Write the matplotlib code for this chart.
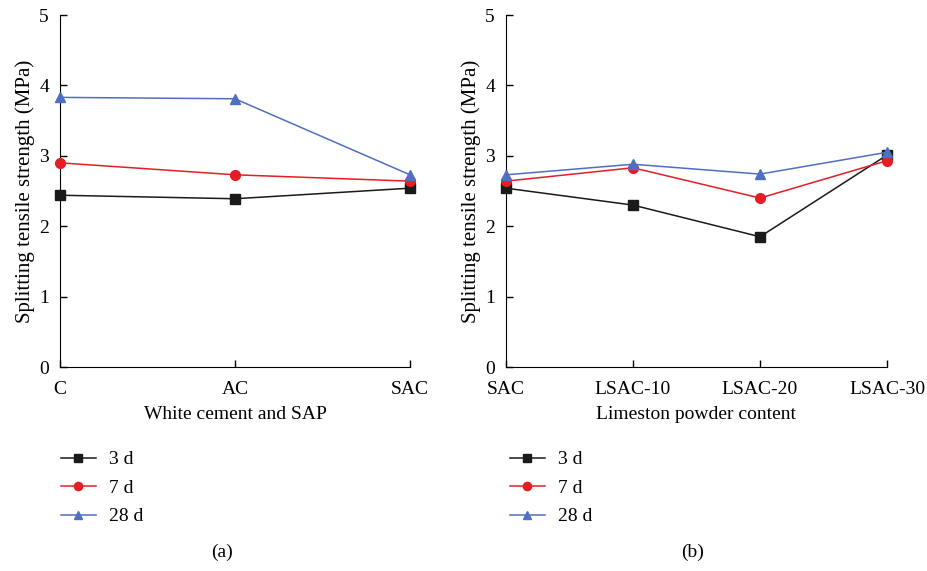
import matplotlib
matplotlib.use("Agg")
import matplotlib.pyplot as plt

plt.rcParams["font.family"] = ["Liberation Serif", "DejaVu Serif"]

# panel (a)
cats_a = ["C", "AC", "SAC"]
d3_a = [2.44, 2.39, 2.54]
d7_a = [2.90, 2.73, 2.64]
d28_a = [3.83, 3.81, 2.73]

# panel (b)
cats_b = ["SAC", "LSAC-10", "LSAC-20", "LSAC-30"]
d3_b = [2.54, 2.30, 1.85, 3.01]
d7_b = [2.64, 2.83, 2.40, 2.93]
d28_b = [2.73, 2.88, 2.74, 3.05]

labels = ["3 d", "7 d", "28 d"]
colors = ["#1a1a1a", "#e31e24", "#4f6fc0"]
markers = ["s", "o", "^"]

fig = plt.figure(figsize=(9.28, 5.71), dpi=100)
ax_a = fig.add_axes([60 / 928, 1 - 367 / 571, 350 / 928, 352 / 571])
ax_b = fig.add_axes([506 / 928, 1 - 367 / 571, 381 / 928, 352 / 571])


def draw(ax, cats, series, xlabel, tag, legend_x, tag_x):
    x = range(len(cats))
    for vals, c, m, lab in zip(series, colors, markers, labels):
        ax.plot(x, vals, color=c, marker=m, markersize=7, linewidth=1.1,
                label=lab, clip_on=False, zorder=3)
    ax.set_xlim(0, len(cats) - 1)
    ax.set_ylim(0, 5)
    ax.set_xticks(list(x))
    ax.set_xticklabels(cats)
    ax.set_yticks(range(0, 6))
    ax.tick_params(direction="in", length=5, width=1, labelsize=14)
    ax.tick_params(axis="y", pad=8)
    ax.tick_params(axis="x", pad=10)
    for s in ["top", "right"]:
        ax.spines[s].set_visible(False)
    ax.set_ylabel("Splitting tensile strength (MPa)", fontsize=15, labelpad=3)
    ax.set_xlabel(xlabel, fontsize=14, labelpad=6)
    ax.legend(loc="upper left", bbox_to_anchor=(legend_x, 1 - 443 / 571),
              bbox_transform=fig.transFigure, frameon=False, fontsize=14,
              handlelength=1.8, labelspacing=0.56, handletextpad=0.7,
              borderaxespad=0, markerscale=0.85)
    fig.text(tag_x, 1 - 552 / 571, tag, ha="center", va="center", fontsize=14)


draw(ax_a, cats_a, [d3_a, d7_a, d28_a], "White cement and SAP", "(a)",
     53 / 928, 222 / 928)
draw(ax_b, cats_b, [d3_b, d7_b, d28_b], "Limeston powder content", "(b)",
     502 / 928, 693 / 928)

fig.savefig("out.png", dpi=100)
